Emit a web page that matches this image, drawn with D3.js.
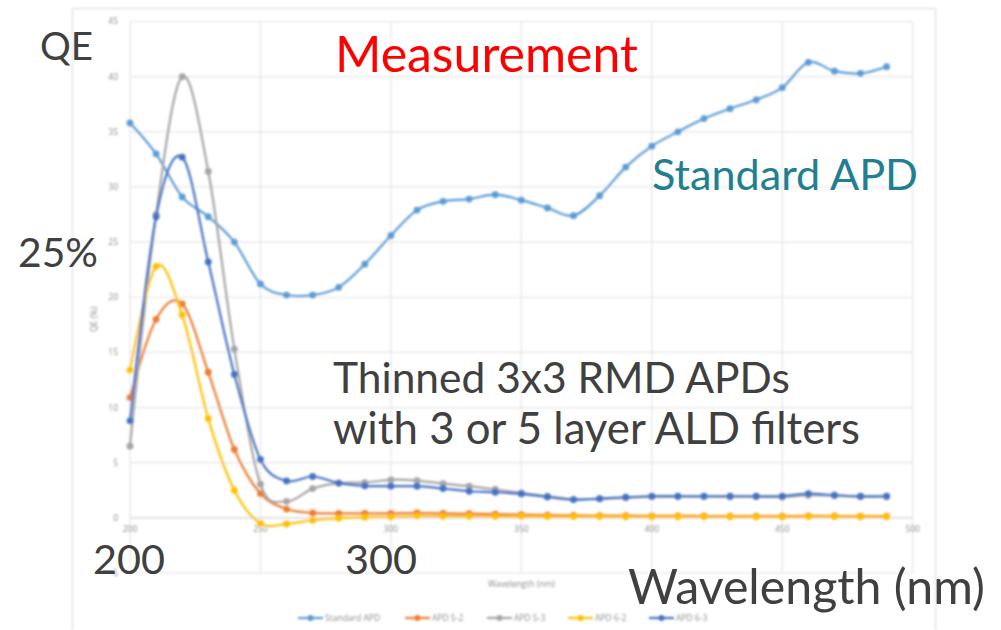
<!DOCTYPE html>
<html>
<head>
<meta charset="utf-8">
<script src="https://cdn.jsdelivr.net/npm/d3@7"></script>
<style>
  html, body { margin: 0; padding: 0; background: #ffffff; }
  svg { display: block; }
</style>
</head>
<body>
<svg id="chart" width="1001" height="630"></svg>
<script>
// Wavelength samples (nm)
const wavelengths = [200, 210, 220, 230, 240, 250, 260, 270, 280, 290,
                     300, 310, 320, 330, 340, 350, 360, 370, 380, 390,
                     400, 410, 420, 430, 440, 450, 460, 470, 480, 490];

// Quantum efficiency (%) per device
const standardAPD = [35.8, 33.0, 29.1, 27.3, 25.0, 21.2, 20.2, 20.2, 20.9, 23.0,
                     25.6, 27.9, 28.7, 28.9, 29.3, 28.8, 28.1, 27.4, 29.2, 31.8,
                     33.7, 35.0, 36.2, 37.1, 37.9, 39.0, 41.3, 40.5, 40.3, 40.9];
const apd52 = [10.9, 18.0, 19.4, 13.2, 6.2, 2.2, 0.8, 0.45, 0.4, 0.4,
               0.4, 0.45, 0.4, 0.38, 0.33, 0.3, 0.25, 0.22, 0.2, 0.2,
               0.18, 0.18, 0.17, 0.16, 0.15, 0.15, 0.18, 0.17, 0.15, 0.15];
const apd53 = [6.5, 27.5, 40.0, 31.4, 15.3, 3.05, 1.5, 2.65, 3.15, 3.2,
               3.45, 3.38, 3.1, 2.87, 2.57, 2.27, 1.96, 1.66, 1.72, 1.82,
               1.92, 1.93, 1.93, 1.92, 1.92, 1.9, 2.05, 2.02, 1.92, 1.92];
const apd62 = [13.4, 22.8, 18.4, 9.0, 2.5, -0.5, -0.55, -0.22, -0.03, 0.06,
               0.1, 0.18, 0.15, 0.15, 0.14, 0.14, 0.12, 0.12, 0.12, 0.1,
               0.1, 0.1, 0.1, 0.1, 0.08, 0.08, 0.12, 0.12, 0.1, 0.1];
const apd63 = [8.8, 27.3, 32.7, 23.2, 13.0, 5.3, 3.35, 3.75, 3.15, 2.9,
               2.87, 2.87, 2.66, 2.41, 2.32, 2.17, 1.9, 1.66, 1.75, 1.87,
               1.96, 1.96, 1.96, 1.96, 1.96, 1.96, 2.2, 2.05, 1.96, 1.96];

const seriesNames = ["Standard APD", "APD 5-2", "APD 5-3", "APD 6-2", "APD 6-3"];
const seriesValues = [standardAPD, apd52, apd53, apd62, apd63];
const seriesColors = ["#5b9bd5", "#ed7d31", "#a5a5a5", "#ffc000", "#4472c4"];

const xTicks = [200, 250, 300, 350, 400, 450, 500];
const yTicks = [-5, 0, 5, 10, 15, 20, 25, 30, 35, 40, 45];

const svg = d3.select("#chart");

const x = d3.scaleLinear().domain([200, 500]).range([130, 912.7]);
const y = d3.scaleLinear().domain([-5, 45]).range([573, 21.5]);

// soft look of the embedded chart image
const defs = svg.append("defs");
defs.append("filter").attr("id", "soft")
  .attr("x", "-5%").attr("y", "-5%").attr("width", "110%").attr("height", "110%")
  .append("feGaussianBlur").attr("stdDeviation", 0.8);

const chart = svg.append("g").attr("filter", "url(#soft)");

// chart frame
chart.append("path")
  .attr("d", "M72.5,630 V8.5 H935.5 V630")
  .attr("fill", "none").attr("stroke", "#d9d9d9").attr("stroke-width", 1);

// gridlines
chart.append("g").selectAll("line").data(yTicks).join("line")
  .attr("x1", x(200)).attr("x2", x(500))
  .attr("y1", d => y(d)).attr("y2", d => y(d))
  .attr("stroke", d => d === 0 ? "#d0d0d0" : "#e4e4e4").attr("stroke-width", 1.2);
chart.append("g").selectAll("line").data(xTicks).join("line")
  .attr("x1", d => x(d)).attr("x2", d => x(d))
  .attr("y1", y(45)).attr("y2", y(-5))
  .attr("stroke", "#e4e4e4").attr("stroke-width", 1.2);

// tick labels
const tickFont = "'Open Sans', 'DejaVu Sans', sans-serif";
chart.append("g").selectAll("text").data(yTicks).join("text")
  .attr("x", x(200) - 12).attr("y", d => y(d)).attr("dy", "0.35em")
  .attr("text-anchor", "end")
  .attr("font-family", tickFont).attr("font-size", 8.5).attr("fill", "#8c8c8c")
  .text(d => d);
chart.append("g").selectAll("text").data(xTicks).join("text")
  .attr("x", d => x(d)).attr("y", y(0) + 14)
  .attr("text-anchor", "middle")
  .attr("font-family", tickFont).attr("font-size", 8.5).attr("fill", "#8c8c8c")
  .text(d => d);

// axis titles
chart.append("text")
  .attr("transform", `translate(97,${(y(45) + y(-5)) / 2 + 22}) rotate(-90)`)
  .attr("text-anchor", "middle")
  .attr("font-family", tickFont).attr("font-size", 8.5).attr("fill", "#8c8c8c")
  .text("QE (%)");
chart.append("text")
  .attr("x", (x(200) + x(500)) / 2).attr("y", 587)
  .attr("text-anchor", "middle")
  .attr("font-family", tickFont).attr("font-size", 8.5).attr("fill", "#8c8c8c")
  .text("Wavelength (nm)");

// series lines and markers
const line = d3.line()
  .x(d => x(d[0])).y(d => y(d[1]))
  .curve(d3.curveCatmullRom.alpha(0));

seriesValues.forEach((vals, i) => {
  const pts = wavelengths.map((w, j) => [w, vals[j]]);
  const g = chart.append("g");
  g.append("path").datum(pts)
    .attr("d", line).attr("fill", "none")
    .attr("stroke", seriesColors[i]).attr("stroke-width", 2.2);
  g.selectAll("circle").data(pts).join("circle")
    .attr("cx", d => x(d[0])).attr("cy", d => y(d[1])).attr("r", 3.4)
    .attr("fill", seriesColors[i]);
});

// legend
const legendX = [298, 405, 487, 568, 649];
const legendY = 618;
const legend = chart.append("g").selectAll("g").data(seriesNames).join("g")
  .attr("transform", (d, i) => `translate(${legendX[i]},${legendY})`);
legend.append("line").attr("x1", 0).attr("x2", 25)
  .attr("stroke", (d, i) => seriesColors[i]).attr("stroke-width", 2.2);
legend.append("circle").attr("cx", 12.5).attr("r", 3)
  .attr("fill", (d, i) => seriesColors[i]);
legend.append("text").attr("x", 27).attr("dy", "0.35em")
  .attr("font-family", tickFont).attr("font-size", 8.5).attr("fill", "#8c8c8c")
  .text(d => d);

// annotation text, each fitted to its span
const noteFont = "Lato, 'Open Sans', sans-serif";
const notes = [
  { text: "QE", x0: 40, x1: 93, base: 60, color: "#404040" },
  { text: "Measurement", x0: 335, x1: 638, base: 72, color: "#ff0000" },
  { text: "Standard APD", x0: 652, x1: 918, base: 190, color: "#217f91" },
  { text: "25%", x0: 18, x1: 98, base: 267, color: "#404040" },
  { text: "Thinned 3x3 RMD APDs", x0: 333, x1: 790, base: 393, color: "#404040" },
  { text: "with 3 or 5 layer ALD filters", x0: 333, x1: 860, base: 444, color: "#404040" },
  { text: "200", x0: 93, x1: 165, base: 574, color: "#404040" },
  { text: "300", x0: 345, x1: 417, base: 574, color: "#404040" },
  { text: "Wavelength (nm)", x0: 628, x1: 985, base: 604, color: "#404040" }
];
const noteG = svg.append("g");
notes.forEach(n => {
  const t = noteG.append("text")
    .attr("x", n.x0).attr("y", n.base)
    .attr("font-family", noteFont).attr("font-size", 46)
    .attr("fill", n.color).text(n.text);
  const w = t.node().getComputedTextLength();
  t.attr("font-size", 46 * (n.x1 - n.x0) / w);
});
</script>
</body>
</html>
